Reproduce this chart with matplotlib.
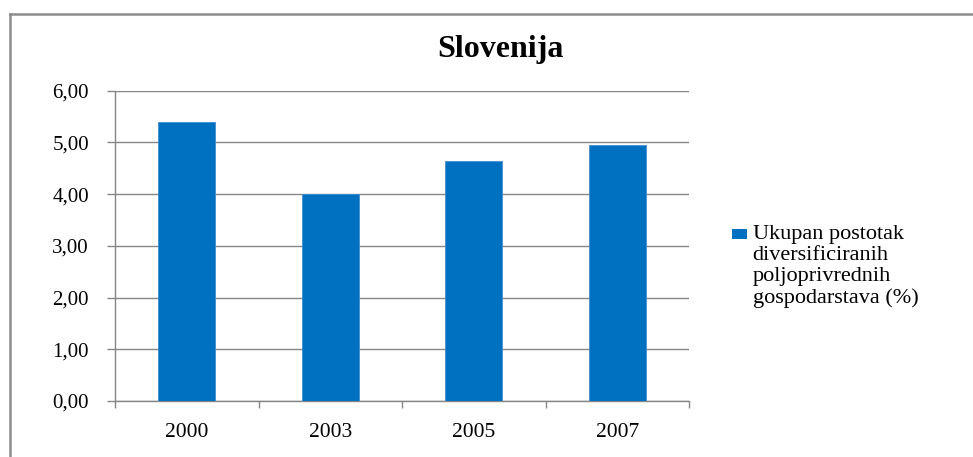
import matplotlib.pyplot as plt
from matplotlib.patches import Rectangle
from matplotlib.lines import Line2D

# ---- podaci ----
years = ['2000', '2003', '2005', '2007']
values = [5.40, 4.00, 4.64, 4.95]
series_label = 'Ukupan postotak\ndiversificiranih\npoljoprivrednih\ngospodarstava (%)'
title = 'Slovenija'
yticks = [0, 1, 2, 3, 4, 5, 6]

C_BAR = '#0070C0'
C_EDGE = '#3F8FD2'
C_AXIS = '#868686'
C_FRAME = '#8C8C8C'

plt.rcParams['font.family'] = ['Liberation Serif', 'DejaVu Serif']

W, H = 973, 457
fig = plt.figure(figsize=(W / 100, H / 100), dpi=100)

# okvir grafikona (lijevo i gore)
fig.add_artist(Line2D([9.5 / W, 9.5 / W], [0, 1 - 13.8 / H], transform=fig.transFigure,
                      color=C_FRAME, linewidth=1.8))
fig.add_artist(Line2D([9.5 / W, 1], [1 - 13.8 / H, 1 - 13.8 / H], transform=fig.transFigure,
                      color=C_FRAME, linewidth=1.8))

ax = fig.add_axes([115 / W, 56 / H, (689 - 115) / W, (401 - 90.7) / H])

x = list(range(len(years)))
ax.bar(x, values, width=0.395, color=C_BAR, edgecolor=C_EDGE, linewidth=0.6, zorder=3)

ax.set_xlim(-0.5, len(years) - 0.5)
ax.set_ylim(0, 6)
ax.set_yticks(yticks)
ax.set_yticklabels([f'{v:.2f}'.replace('.', ',') for v in yticks], fontsize=15)
ax.set_xticks(x)
ax.set_xticklabels(years, fontsize=15.5)
ax.set_xticks([i - 0.5 for i in range(len(years) + 1)], minor=True)

ax.tick_params(axis='x', which='major', length=0, pad=16)
ax.tick_params(axis='x', which='minor', length=5.2, width=1, color=C_AXIS, direction='out')
ax.tick_params(axis='y', length=5.8, width=1, color=C_AXIS, direction='out', pad=13)

ax.grid(True, axis='y', color=C_AXIS, linewidth=1, zorder=0)
ax.set_axisbelow(True)
for side in ['top', 'right']:
    ax.spines[side].set_visible(False)
for side in ['left', 'bottom']:
    ax.spines[side].set_color(C_AXIS)
    ax.spines[side].set_linewidth(1)

# naslov
fig.text(500 / W, 1 - 57 / H, title, ha='center', va='baseline',
         fontsize=23, fontweight='bold')

# legenda
fig.add_artist(Rectangle((731.7 / W, 1 - 239 / H), 15 / W, 10 / H,
                         transform=fig.transFigure, facecolor=C_BAR, edgecolor='none'))
fig.text(752.7 / W, 1 - 225.5 / H, series_label, ha='left', va='top',
         fontsize=16, linespacing=1.13)

fig.savefig('out.png', dpi=100)
